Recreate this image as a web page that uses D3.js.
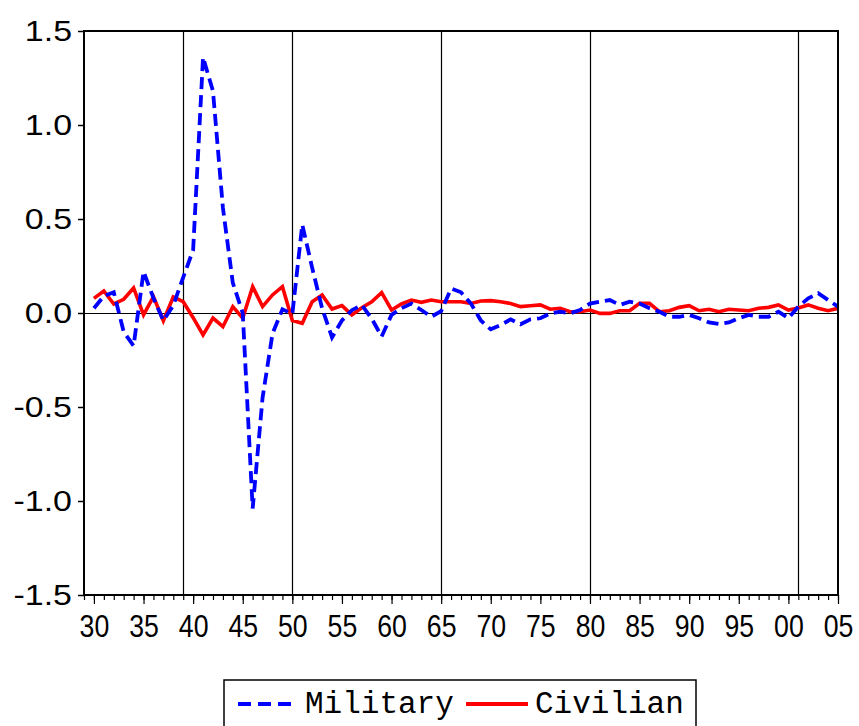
<!DOCTYPE html>
<html>
<head>
<meta charset="utf-8">
<script src="https://cdn.jsdelivr.net/npm/d3@7"></script>
<style>
  html, body { margin: 0; padding: 0; background: #fff; }
  svg { display: block; }
</style>
</head>
<body>
<svg id="chart" width="859" height="726"></svg>
<script>
const years = d3.range(1930, 2006);
const military = [
  0.025, 0.09, 0.11, -0.10, -0.175, 0.22, 0.08, -0.04, 0.04, 0.19,
  0.335, 1.36, 1.18, 0.56, 0.16, 0.0, -1.04, -0.45, -0.11, 0.02,
  -0.005, 0.47, 0.24, 0.025, -0.13, -0.04, 0.015, 0.043, -0.03, -0.125,
  -0.01, 0.025, 0.05, 0.016, -0.02, 0.01, 0.13, 0.11, 0.05, -0.04,
  -0.087, -0.064, -0.034, -0.06, -0.034, -0.028, -0.002, 0.007, -0.002, 0.016,
  0.05, 0.06, 0.069, 0.043, 0.06, 0.05, 0.025, 0.007, -0.02, -0.02,
  -0.01, -0.028, -0.05, -0.058, -0.05, -0.028, -0.01, -0.02, -0.02, 0.007,
  -0.028, 0.034, 0.078, 0.105, 0.069, 0.034
];
const civilian = [
  0.078, 0.117, 0.048, 0.073, 0.133, -0.01, 0.087, -0.041, 0.085, 0.06,
  -0.025, -0.117, -0.027, -0.073, 0.034, -0.027, 0.14, 0.034, 0.096, 0.14,
  -0.04, -0.055, 0.06, 0.096, 0.021, 0.039, -0.01, 0.028, 0.06, 0.108,
  0.016, 0.048, 0.069, 0.057, 0.069, 0.06, 0.06, 0.06, 0.051, 0.064,
  0.066, 0.06, 0.051, 0.034, 0.039, 0.043, 0.02, 0.025, 0.007, 0.007,
  0.016, -0.002, -0.002, 0.012, 0.012, 0.051, 0.051, 0.007, 0.012, 0.03,
  0.039, 0.012, 0.02, 0.007, 0.02, 0.016, 0.012, 0.025, 0.03, 0.043,
  0.016, 0.027, 0.043, 0.025, 0.012, 0.025
];
const yTicks = [-1.5, -1.0, -0.5, 0.0, 0.5, 1.0, 1.5];
const xMajorTicks = d3.range(1930, 2006, 5);
const xMinorTicks = d3.range(1929, 2006, 1);
const markerYears = [1939, 1950, 1965, 1980, 2001];
const seriesNames = ["Military", "Civilian"];

const svg = d3.select("#chart");
const L = 84, R = 838, T = 31, B = 595;
const x = d3.scaleLinear().domain([1929, 2005]).range([L, R]);
const y = d3.scaleLinear().domain([-1.5, 1.5]).range([B, T]);

svg.append("defs").append("clipPath").attr("id", "clip")
  .append("rect").attr("x", L).attr("y", T).attr("width", R - L).attr("height", B - T);

// reference lines
svg.append("g").selectAll("line").data(markerYears).join("line")
  .attr("x1", d => Math.round(x(d)) + 0.5).attr("x2", d => Math.round(x(d)) + 0.5)
  .attr("y1", T).attr("y2", B)
  .attr("stroke", "#000").attr("stroke-width", 1.2);
svg.append("line")
  .attr("x1", L).attr("x2", R).attr("y1", Math.round(y(0)) + 0.5).attr("y2", Math.round(y(0)) + 0.5)
  .attr("stroke", "#000").attr("stroke-width", 1.2);

// series
const lineGen = vals => d3.line().x((d, i) => x(years[i])).y(d => y(d))(vals);
const g = svg.append("g").attr("clip-path", "url(#clip)");
g.append("path").attr("d", lineGen(civilian))
  .attr("fill", "none").attr("stroke", "#ff0000").attr("stroke-width", 3.6);
g.append("path").attr("d", lineGen(military))
  .attr("fill", "none").attr("stroke", "#0000ff").attr("stroke-width", 3.8)
  .attr("stroke-dasharray", "12,6");

// frame
svg.append("rect").attr("x", L).attr("y", T).attr("width", R - L).attr("height", B - T)
  .attr("fill", "none").attr("stroke", "#000").attr("stroke-width", 2);

const font = "'Liberation Sans', Arial, Helvetica, sans-serif";

// y axis
const yAxis = svg.append("g").attr("transform", `translate(${L},0)`)
  .call(d3.axisLeft(y).tickValues(yTicks).tickFormat(d => d.toFixed(1))
    .tickSize(6).tickSizeOuter(0).tickPadding(5));
yAxis.select(".domain").remove();
yAxis.selectAll("text")
  .attr("x", 0)
  .attr("transform", "translate(-12,0) scale(1.17,1)")
  .attr("font-family", font).attr("font-size", 29).attr("fill", "#000");
yAxis.selectAll("line").attr("stroke", "#000").attr("stroke-width", 1.5);

// x axis minor
const xMinor = svg.append("g").attr("transform", `translate(0,${B})`)
  .call(d3.axisBottom(x).tickValues(xMinorTicks).tickFormat("").tickSize(5).tickSizeOuter(0));
xMinor.select(".domain").remove();
xMinor.selectAll("line").attr("stroke", "#000").attr("stroke-width", 1.2);

// x axis major
const xAxis = svg.append("g").attr("transform", `translate(0,${B})`)
  .call(d3.axisBottom(x).tickValues(xMajorTicks)
    .tickFormat(d => String(d % 100).padStart(2, "0"))
    .tickSize(9).tickSizeOuter(0).tickPadding(12));
xAxis.select(".domain").remove();
xAxis.selectAll("text")
  .attr("y", 0).attr("dy", null)
  .attr("transform", "translate(0,42) scale(0.92,1.08)")
  .attr("font-family", font).attr("font-size", 29).attr("fill", "#000");
xAxis.selectAll("line").attr("stroke", "#000").attr("stroke-width", 1.2);

// legend
const mono = "'Liberation Mono', 'Courier New', monospace";
const lg = svg.append("g");
lg.append("rect").attr("x", 224).attr("y", 680).attr("width", 472).attr("height", 70)
  .attr("fill", "#fff").attr("stroke", "#000").attr("stroke-width", 1.5);
lg.append("line").attr("x1", 238).attr("x2", 298).attr("y1", 704).attr("y2", 704)
  .attr("stroke", "#0000ff").attr("stroke-width", 3.8).attr("stroke-dasharray", "13,7");
lg.append("text").attr("x", 305).attr("y", 713).text(seriesNames[0])
  .attr("font-family", mono).attr("font-size", 31).attr("fill", "#000");
lg.append("line").attr("x1", 466).attr("x2", 528).attr("y1", 704).attr("y2", 704)
  .attr("stroke", "#ff0000").attr("stroke-width", 3.8);
lg.append("text").attr("x", 535).attr("y", 713).text(seriesNames[1])
  .attr("font-family", mono).attr("font-size", 31).attr("fill", "#000");
</script>
</body>
</html>
